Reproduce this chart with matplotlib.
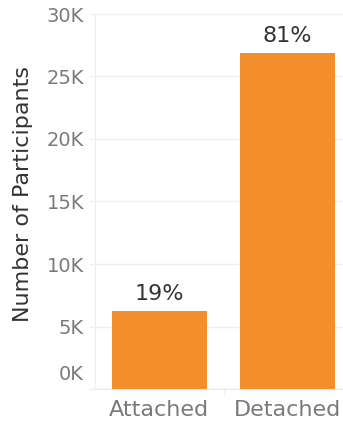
import matplotlib
matplotlib.use("Agg")
import matplotlib.pyplot as plt
import matplotlib.transforms as mtransforms

categories = ["Attached", "Detached"]
participants = [6250, 26900]
pct_labels = ["19%", "81%"]
yticks = [0, 5000, 10000, 15000, 20000, 25000, 30000]
ytick_labels = ["0K", "5K", "10K", "15K", "20K", "25K", "30K"]

FONT = "DejaVu Sans"
ORANGE = "#F28E2B"
TICK_GRAY = "#7A7A7A"
DARK = "#333333"
FAINT = "#EFEFEF"

fig = plt.figure(figsize=(3.43, 4.23), dpi=100)
ax = fig.add_axes([95 / 343, 34 / 423, 257 / 343, 375 / 423])

x = list(range(len(categories)))
ax.bar(x, participants, width=0.74, color=ORANGE, zorder=2)

for xi, v, lab in zip(x, participants, pct_labels):
    ax.annotate(lab, (xi, v), xytext=(0, 7.5), textcoords="offset points",
                ha="center", va="baseline", fontsize=16, color=DARK, family=FONT)

ax.set_xlim(-0.5, 1.5)
ax.set_ylim(0, 30000)
ax.set_yticks(yticks)
ax.set_yticklabels(ytick_labels, fontsize=14, color=TICK_GRAY, family=FONT)
ax.set_xticks(x)
ax.set_xticklabels(categories, fontsize=16, color=TICK_GRAY, family=FONT)
ax.set_xticks([0.5], minor=True)
ax.tick_params(axis="y", length=4, color=FAINT, pad=4)
ax.tick_params(axis="x", which="major", length=0, pad=8)
ax.tick_params(axis="x", which="minor", length=5, color=FAINT)

# lift the bottom value label so it sits inside the pane
ylabs = ax.get_yticklabels()
ylabs[0].set_transform(ylabs[0].get_transform() +
                       mtransforms.ScaledTranslation(0, 17 / 100, fig.dpi_scale_trans))

ax.grid(axis="y", color=FAINT, linewidth=1, zorder=0)
for s in ["top", "right"]:
    ax.spines[s].set_visible(False)
ax.spines["left"].set_color(FAINT)
ax.spines["bottom"].set_color("#E8E8E8")

ax.set_ylabel("Number of Participants", fontsize=16, color=DARK, family=FONT)
ax.yaxis.set_label_coords(-0.241, 0.519)
ax.yaxis.label.set_va("bottom")

fig.savefig("out.png", dpi=100)
